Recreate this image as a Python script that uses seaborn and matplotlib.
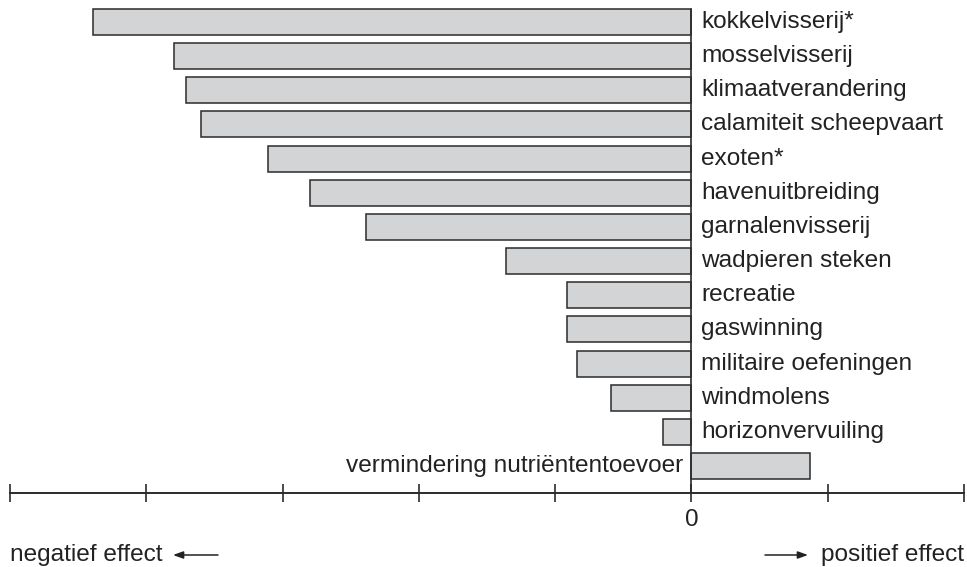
import matplotlib
matplotlib.use("Agg")
import matplotlib.pyplot as plt
import seaborn as sns
import pandas as pd

# effect of each factor (negative = harmful)
factors = ["kokkelvisserij*", "mosselvisserij", "klimaatverandering",
           "calamiteit scheepvaart", "exoten*", "havenuitbreiding",
           "garnalenvisserij", "wadpieren steken", "recreatie", "gaswinning",
           "militaire oefeningen", "windmolens", "horizonvervuiling",
           "vermindering nutriëntentoevoer"]
effect = [-4.39, -3.80, -3.71, -3.60, -3.11, -2.80, -2.39,
          -1.36, -0.91, -0.91, -0.84, -0.59, -0.21, 0.87]
xticks = [-5, -4, -3, -2, -1, 0, 1, 2]
xticklabels = ["", "", "", "", "", "0", "", ""]

df = pd.DataFrame({"factor": factors, "effect": effect})

sns.set_style("white")
plt.rcParams["font.family"] = ["Liberation Sans", "DejaVu Sans"]
FS = 17.6
INK = "#222222"

W, H = 967, 567
fig = plt.figure(figsize=(W / 100, H / 100), dpi=100)
ax = fig.add_axes([10 / W, (H - 493) / H, 954 / W, 493 / H])

sns.barplot(data=df, x="effect", y="factor", orient="h", ax=ax,
            color="#d3d4d6", saturation=1, width=0.76,
            edgecolor="#2b2b2b", linewidth=1.1)

ax.set_xlim(-5, 2)
ax.set_ylim(13.79, -0.644)
ax.set_xticks(xticks)
ax.set_xticklabels(xticklabels, fontsize=FS, color=INK)
ax.tick_params(axis="x", bottom=True, direction="inout", length=13,
               width=1.2, color="#2b2b2b", pad=5)
ax.set_yticks([])
ax.set_xlabel("")
ax.set_ylabel("")
for s in ["left", "top", "right"]:
    ax.spines[s].set_visible(False)
ax.spines["bottom"].set_linewidth(1.4)
ax.spines["bottom"].set_color("#2b2b2b")

# zero line
ax.plot([0, 0], [-0.38, 13.79], color="#2b2b2b", lw=1.2, clip_on=False)

# category labels next to the zero line
for i, (name, val) in enumerate(zip(factors, effect)):
    if val < 0:
        ax.text(0.07, i, name, ha="left", va="center", fontsize=FS, color=INK)
    else:
        ax.text(-0.06, i, name, ha="right", va="center", fontsize=FS, color=INK)

# direction captions
arrow = dict(arrowstyle="-|>,head_length=0.5,head_width=0.18", color=INK,
             lw=1.1, mutation_scale=12, shrinkA=0, shrinkB=0)
fig.text(10 / W, 12 / H, "negatief effect", ha="left", va="center",
         fontsize=FS, color=INK)
ax.annotate("", xy=(173, 12), xytext=(218, 12), xycoords="figure pixels",
            textcoords="figure pixels", arrowprops=arrow)
fig.text(964 / W, 12 / H, "positief effect", ha="right", va="center",
         fontsize=FS, color=INK)
ax.annotate("", xy=(808, 12), xytext=(765, 12), xycoords="figure pixels",
            textcoords="figure pixels", arrowprops=arrow)

fig.savefig("out.png", dpi=100)
